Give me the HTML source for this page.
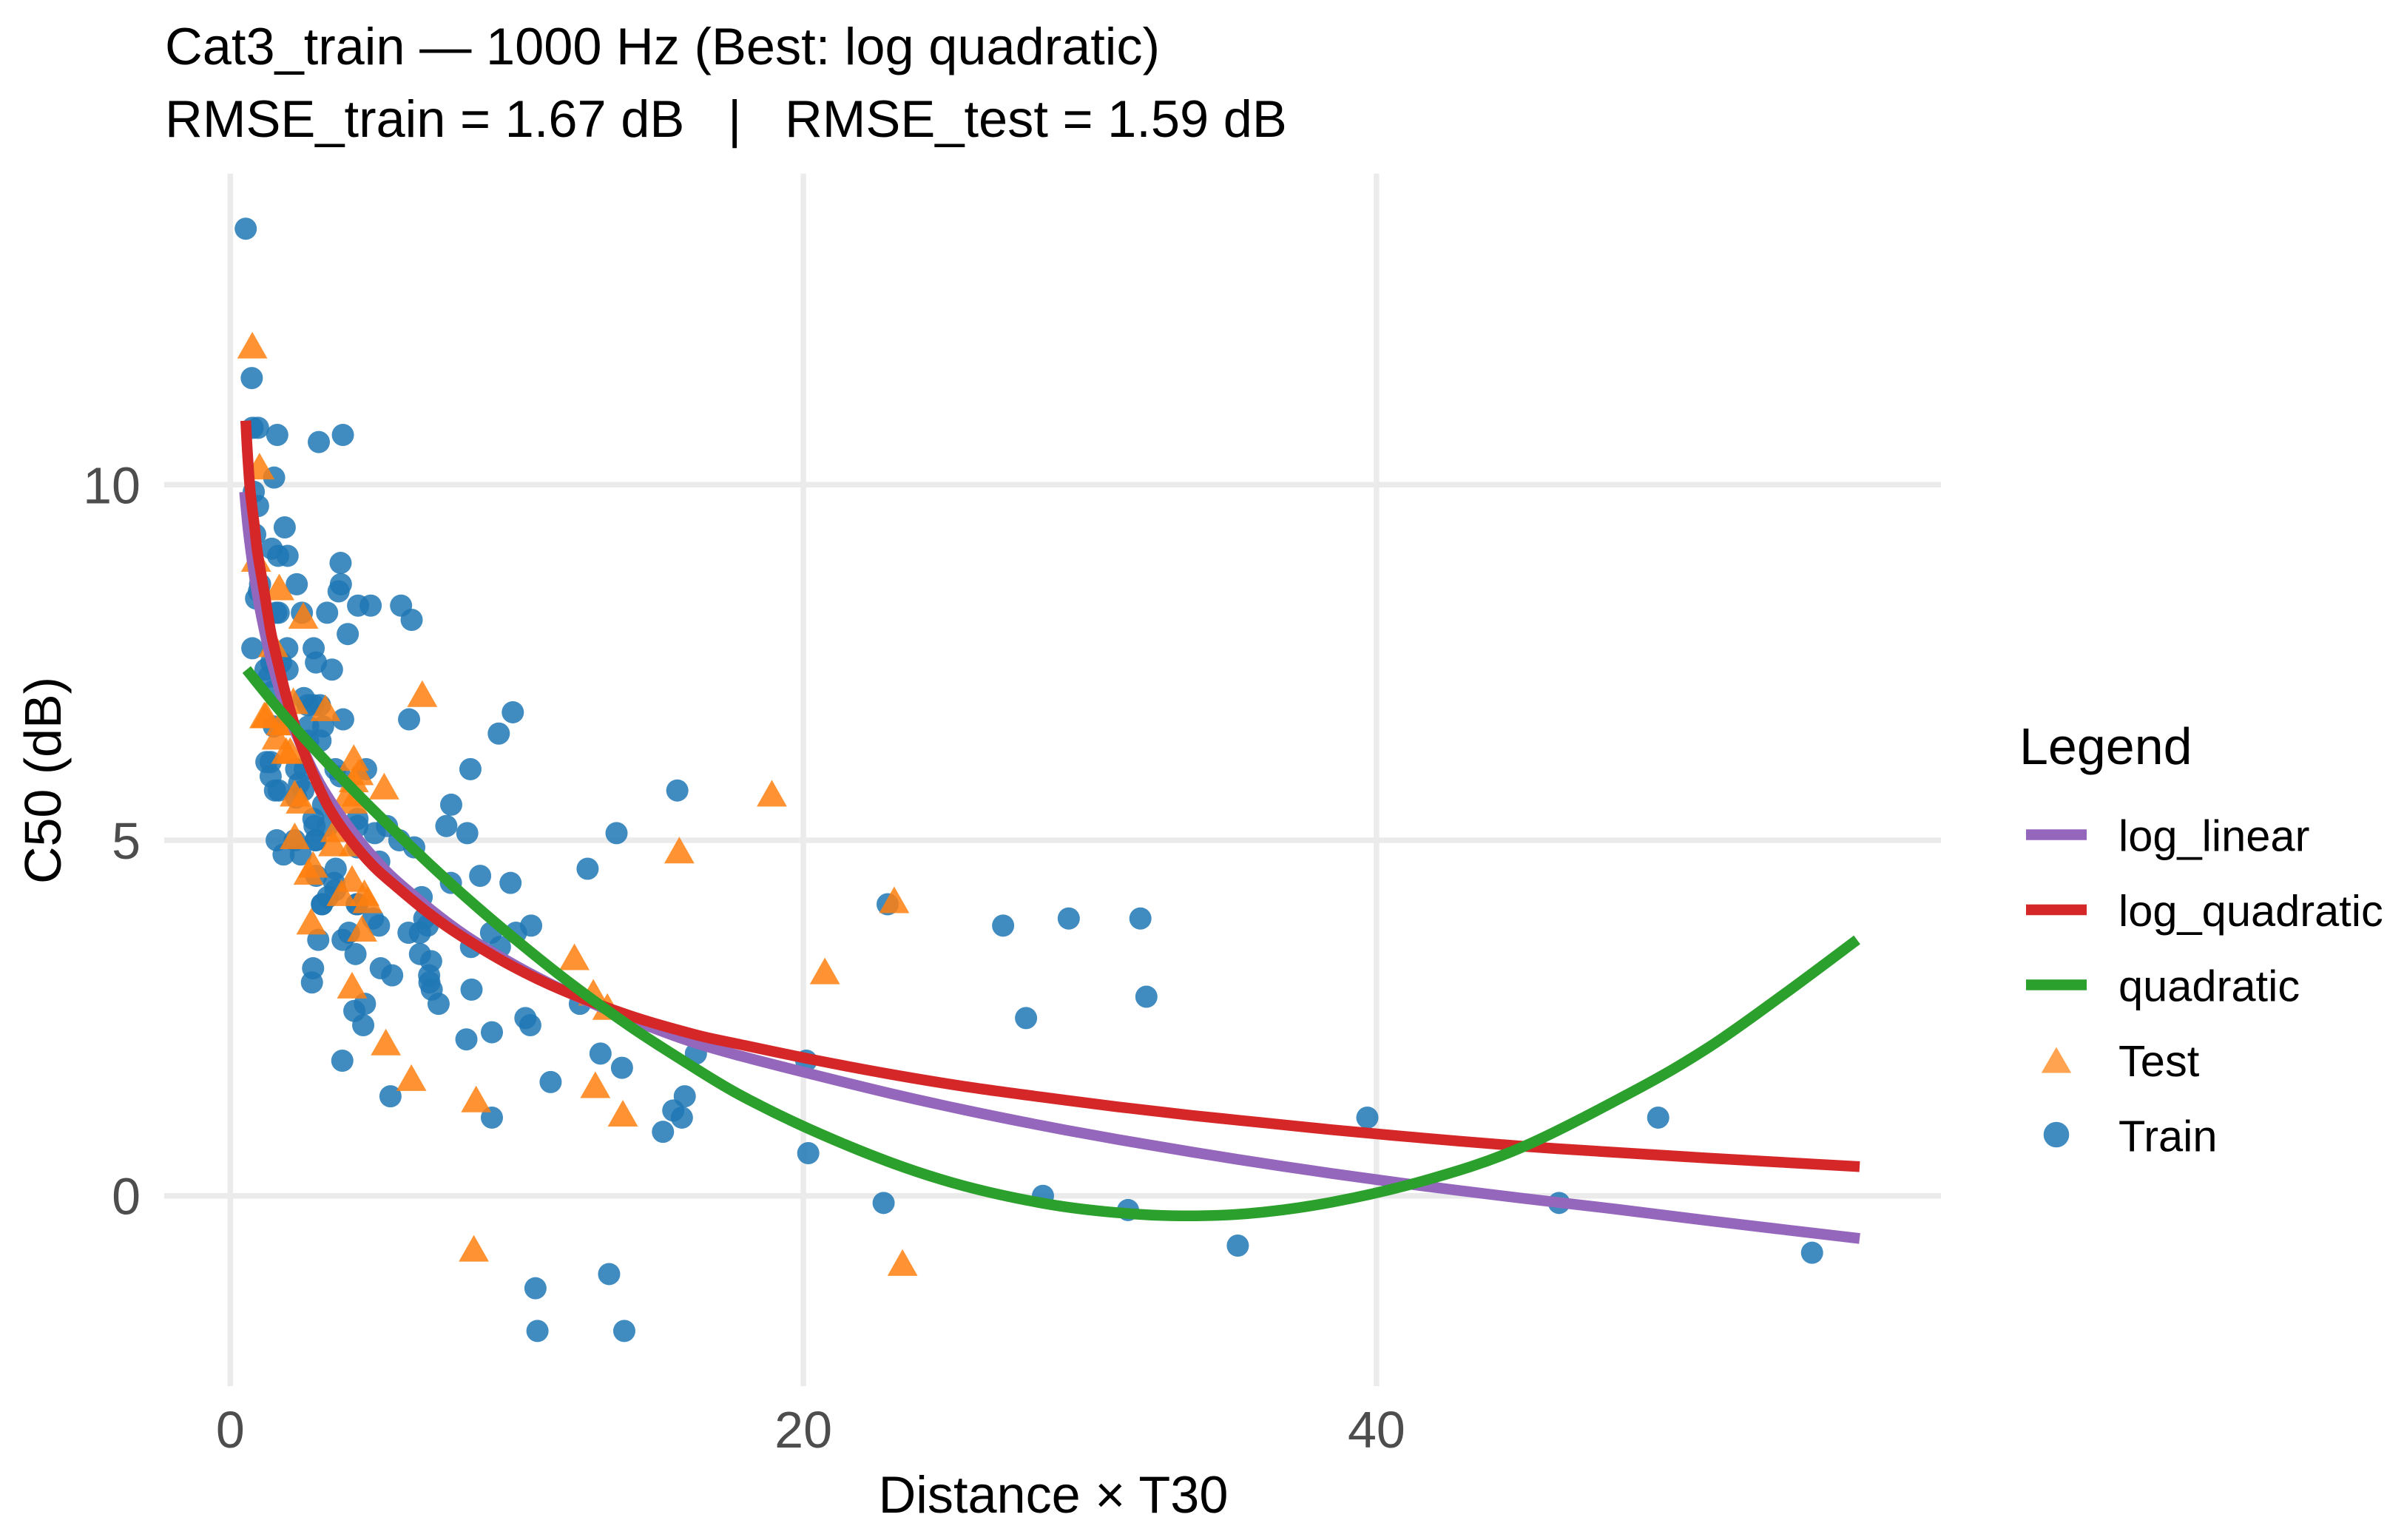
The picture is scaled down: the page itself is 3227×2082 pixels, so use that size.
<!DOCTYPE html>
<html lang="en">
<head>
<meta charset="utf-8">
<title>Cat3_train C50 vs Distance × T30</title>
<style>
html,body{margin:0;padding:0;background:#fff;width:3227px;height:2082px;overflow:hidden}
svg{display:block}
text{font-family:"Liberation Sans",Arial,sans-serif}
</style>
</head>
<body>
<svg id="chart" xmlns="http://www.w3.org/2000/svg" width="3227" height="2082" viewBox="0 0 3227 2082">
  <rect x="0" y="0" width="3227" height="2082" fill="#ffffff"/>
  <g id="grid"></g>
  <g id="train"></g>
  <g id="test"></g>
  <g id="curves"></g>
  <g id="ticks"></g>
  <text x="223" y="87" font-size="70.35" fill="#000">Cat3_train — 1000 Hz (Best: log quadratic)</text>
  <text x="223" y="185" font-size="70.4" fill="#000" xml:space="preserve" style="white-space:pre">RMSE_train = 1.67 dB   |   RMSE_test = 1.59 dB</text>
  <text x="1424" y="2045" font-size="70.2" fill="#000" text-anchor="middle">Distance × T30</text>
  <text transform="translate(82,1055) rotate(-90)" font-size="70" fill="#000" text-anchor="middle">C50 (dB)</text>
  <g>
    <text x="2730" y="1033" font-size="70" fill="#000">Legend</text>
    <line x1="2739" x2="2821" y1="1128.5" y2="1128.5" stroke="#9467bd" stroke-width="14.5"/>
    <line x1="2739" x2="2821" y1="1230" y2="1230" stroke="#d62728" stroke-width="14.5"/>
    <line x1="2739" x2="2821" y1="1331.5" y2="1331.5" stroke="#2ca02c" stroke-width="14.5"/>
    <polygon points="2780,1415.6 2800.2,1450.5 2759.8,1450.5" fill="#ffa350"/>
    <circle cx="2780" cy="1534" r="17.3" fill="#408bbf"/>
    <text x="2864" y="1150.5" font-size="59.6" fill="#000">log_linear</text>
    <text x="2864" y="1252" font-size="59.6" fill="#000">log_quadratic</text>
    <text x="2864" y="1353.5" font-size="59.6" fill="#000">quadratic</text>
    <text x="2864" y="1455" font-size="59.6" fill="#000">Test</text>
    <text x="2864" y="1556.5" font-size="59.6" fill="#000">Train</text>
  </g>
</svg>
<script>
const xTickValues = [0, 20, 40];
const yTickValues = [0, 5, 10];
const xTickLabels = ["0", "20", "40"];
const yTickLabels = ["0", "5", "10"];

const trainX = [0.54,0.75,0.78,0.97,1.64,3.09,3.93,1.53,0.82,0.97,1.9,0.87,1.45,1.67,2.0,
3.85,3.86,3.78,2.32,1.04,1.0,0.9,1.69,1.6,2.5,3.38,4.46,4.9,5.96,6.33,4.1,0.77,1.99,2.91,2.99,3.55,2.0,1.23,1.43,1.77,1.35,1.5,
2.57,2.9,2.7,3.13,3.94,6.24,9.86,9.37,8.38,7.71,7.54,8.27,8.72,9.78,7.7,1.52,3.24,3.15,2.72,2.72,1.26,1.41,1.41,1.56,1.69,2.3,2.6,2.4,2.55,2.3,
4.74,3.67,3.84,2.9,3.24,2.94,3.4,2.98,4.44,4.44,5.47,5.04,5.9,6.42,1.62,2.25,1.86,2.46,2.98,4.44,3.0,3.68,3.63,3.67,3.4,3.2,4.44,5.2,6.68,
3.2,4.41,4.98,5.19,6.89,6.77,10.5,9.97,9.1,9.41,8.4,6.22,6.62,4.14,3.92,3.07,4.37,6.62,7.01,5.25,5.65,2.89,2.85,6.94,6.95,7.03,7.27,8.42,4.7,4.33,4.64,10.3,10.47,9.13,8.24,12.2,3.91,12.92,13.67,16.25,11.18,5.59,9.13,15.86,15.46,15.76,15.1,13.22,10.65,10.72,13.75,
20.17,20.1,22.8,22.94,26.97,29.26,31.76,31.97,27.77,28.36,31.33,35.16,39.68,49.83,46.37,55.2,13.48,15.6,12.47];
const trainY = [13.6,11.5,10.8,10.8,10.7,10.6,10.7,10.1,9.9,9.7,9.4,9.3,9.1,9.0,9.0,
8.9,8.6,8.5,8.6,8.6,8.5,8.4,8.2,8.2,8.2,8.2,8.3,8.3,8.3,8.1,7.9,7.7,7.7,7.7,7.5,7.4,7.4,7.4,7.5,7.5,7.3,7.1,
7.0,6.9,6.9,6.9,6.7,6.7,6.8,6.5,6.0,5.5,5.2,5.1,4.5,4.4,4.4,6.6,6.6,6.4,6.6,6.4,6.1,6.1,5.9,5.7,5.7,6.0,6.0,5.8,5.7,5.6,
6.0,6.0,5.9,5.3,5.5,5.2,5.2,5.0,5.3,5.2,5.2,5.1,5.0,4.9,5.0,5.0,4.8,4.8,5.0,4.9,4.5,4.6,4.4,4.3,4.2,4.1,4.1,4.7,4.2,
4.1,4.1,3.9,3.8,3.8,3.9,3.8,3.7,3.7,3.5,3.5,3.7,3.7,3.7,3.6,3.6,3.4,3.4,3.3,3.2,3.1,3.2,3.0,3.1,3.0,2.9,2.7,2.9,2.7,2.6,2.4,2.5,2.4,2.3,2.2,2.7,1.9,2.0,1.8,2.0,1.6,1.4,1.1,1.4,1.2,1.1,0.9,-1.1,-1.3,-1.9,-1.9,
0.6,1.9,-0.1,4.1,3.8,3.9,3.9,2.8,2.5,0.0,-0.2,-0.7,1.1,1.1,-0.1,-0.8,5.1,5.7,4.6];

const testX = [0.77,1.02,0.9,1.71,2.55,1.5,6.7,2.2,3.32,1.19,1.25,1.77,2.0,1.62,2.09,1.95,4.31,4.48,4.31,5.37,2.25,2.46,4.1,4.27,3.67,2.25,3.59,4.31,2.89,2.73,4.25,3.88,4.68,4.79,
2.83,4.6,4.25,5.43,6.32,8.58,12.74,13.7,12.01,12.67,13.16,8.5,18.9,15.67,23.17,20.75,23.46];
const testY = [11.9,10.2,8.9,8.5,8.1,7.7,7.0,6.9,6.8,6.7,6.7,6.6,6.6,6.4,6.2,6.2,6.1,5.9,5.8,5.7,5.6,5.5,5.6,5.5,5.1,5.0,4.9,4.9,4.6,4.5,4.4,4.2,4.2,4.1,
3.8,3.7,2.9,2.1,1.6,1.3,1.5,1.1,3.3,2.8,2.6,-0.8,5.6,4.8,4.1,3.1,-1.0];

const logLinearX = [0.5,0.6,0.7,0.85,1,1.25,1.5,2,3,4,5,6,8,10,12,14,16,17.78,20.4,23.04,25.6,28.3,31,33.57,36,38.43,41.7,45,48,51.6,56.86];
const logLinearY = [9.9,9.46,9.12,8.69,8.33,7.84,7.43,6.79,5.89,5.26,4.76,4.36,3.72,3.23,2.82,2.48,2.18,1.97,1.7,1.44,1.21,0.99,0.79,0.615,0.46,0.315,0.135,-0.03,-0.17,-0.35,-0.6];

const logQuadraticX = [0.54,0.6,0.7,0.85,0.95,1.21,1.43,1.69,1.99,2.38,2.81,3.41,4.1,4.96,5.82,7,8.15,9.88,11.6,13.9,16.2,17.78,20.4,23.04,25.6,28.3,31,33.57,36,38.43,41.7,45,48,51.6,56.86];
const logQuadraticY = [10.9,10.45,9.9,9.4,9.05,8.43,7.9,7.45,6.97,6.45,6.0,5.48,5.06,4.65,4.34,3.95,3.63,3.22,2.89,2.54,2.27,2.13,1.91,1.71,1.54,1.39,1.25,1.13,1.03,0.93,0.81,0.7,0.62,0.53,0.41];

const quadraticX = [0.57,2,4,6,8,10,12,14,16,17.78,20.15,23.04,25.6,28.3,30.5,32.9,35.5,38.43,41.72,45,48.96,51.6,54.2,56.77];
const quadraticY = [7.4,6.7,5.83,5.03,4.28,3.59,2.95,2.37,1.85,1.42,0.95,0.47,0.14,-0.1,-0.22,-0.28,-0.25,-0.09,0.22,0.67,1.47,2.09,2.83,3.6];

const PANEL_LEFT = 222, PANEL_RIGHT = 2624, PANEL_TOP = 234.7, PANEL_BOTTOM = 1874;
const xScale = v => 311.3 + v * 38.74;
const yScale = v => 1616.7 - v * 96.14;
const NS = 'http://www.w3.org/2000/svg';
const gridG = document.getElementById('grid');
const trainG = document.getElementById('train');
const testG = document.getElementById('test');
const curvesG = document.getElementById('curves');
const ticksG = document.getElementById('ticks');

xTickValues.forEach(function (v, i) {
  const g = document.createElementNS(NS, 'line');
  
  
  g.setAttribute('x1', xScale(v));
  g.setAttribute('x2', xScale(v));
  g.setAttribute('y1', PANEL_TOP);
  g.setAttribute('y2', PANEL_BOTTOM);
  g.setAttribute('stroke', '#ebebeb');
  g.setAttribute('stroke-width', '7.5');
  gridG.appendChild(g);
  const t = document.createElementNS(NS, 'text');
  
  
  t.setAttribute('x', xScale(v));
  t.setAttribute('y', 1957);
  t.setAttribute('font-size', '70');
  t.setAttribute('fill', '#4d4d4d');
  t.setAttribute('text-anchor', 'middle');
  t.textContent = xTickLabels[i];
  ticksG.appendChild(t);
});

yTickValues.forEach(function (v, i) {
  const g = document.createElementNS(NS, 'line');
  
  
  g.setAttribute('x1', PANEL_LEFT);
  g.setAttribute('x2', PANEL_RIGHT);
  g.setAttribute('y1', yScale(v));
  g.setAttribute('y2', yScale(v));
  g.setAttribute('stroke', '#ebebeb');
  g.setAttribute('stroke-width', '7.5');
  gridG.appendChild(g);
  const t = document.createElementNS(NS, 'text');
  
  
  t.setAttribute('x', 190);
  t.setAttribute('y', yScale(v) + 25);
  t.setAttribute('font-size', '70');
  t.setAttribute('fill', '#4d4d4d');
  t.setAttribute('text-anchor', 'end');
  t.textContent = yTickLabels[i];
  ticksG.appendChild(t);
});

trainX.forEach(function (x, i) {
  const c = document.createElementNS(NS, 'circle');
  
  
  c.setAttribute('cx', xScale(x));
  c.setAttribute('cy', yScale(trainY[i]));
  c.setAttribute('r', '15');
  c.setAttribute('fill', '#1f77b4');
  c.setAttribute('fill-opacity', '0.85');
  trainG.appendChild(c);
});

testX.forEach(function (x, i) {
  const px = xScale(x), py = yScale(testY[i]);
  const p = document.createElementNS(NS, 'polygon');
  
  
  p.setAttribute('points', px + ',' + (py - 24) + ' ' + (px + 20.4) + ',' + (py + 12) + ' ' + (px - 20.4) + ',' + (py + 12));
  p.setAttribute('fill', '#ff7f0e');
  p.setAttribute('fill-opacity', '0.85');
  testG.appendChild(p);
});

function drawCurve(xs, ys, color, name) {
  const pts = xs.map(function (x, i) { return [xScale(x), yScale(ys[i])]; });
  let d = 'M' + pts[0][0] + ',' + pts[0][1];
  for (let i = 0; i < pts.length - 1; i++) {
    const p0 = pts[Math.max(i - 1, 0)], p1 = pts[i], p2 = pts[i + 1], p3 = pts[Math.min(i + 2, pts.length - 1)];
    const c1x = p1[0] + (p2[0] - p0[0]) / 6, c1y = p1[1] + (p2[1] - p0[1]) / 6;
    const c2x = p2[0] - (p3[0] - p1[0]) / 6, c2y = p2[1] - (p3[1] - p1[1]) / 6;
    d += ' C' + c1x + ',' + c1y + ' ' + c2x + ',' + c2y + ' ' + p2[0] + ',' + p2[1];
  }
  const l = document.createElementNS(NS, 'path');
  
  
  l.setAttribute('d', d);
  l.setAttribute('fill', 'none');
  l.setAttribute('stroke', color);
  l.setAttribute('stroke-width', '14.5');
  l.setAttribute('stroke-linejoin', 'round');
  curvesG.appendChild(l);
}
drawCurve(logLinearX, logLinearY, '#9467bd', 'log-linear-curve');
drawCurve(logQuadraticX, logQuadraticY, '#d62728', 'log-quadratic-curve');
drawCurve(quadraticX, quadraticY, '#2ca02c', 'quadratic-curve');
</script>
</body>
</html>
